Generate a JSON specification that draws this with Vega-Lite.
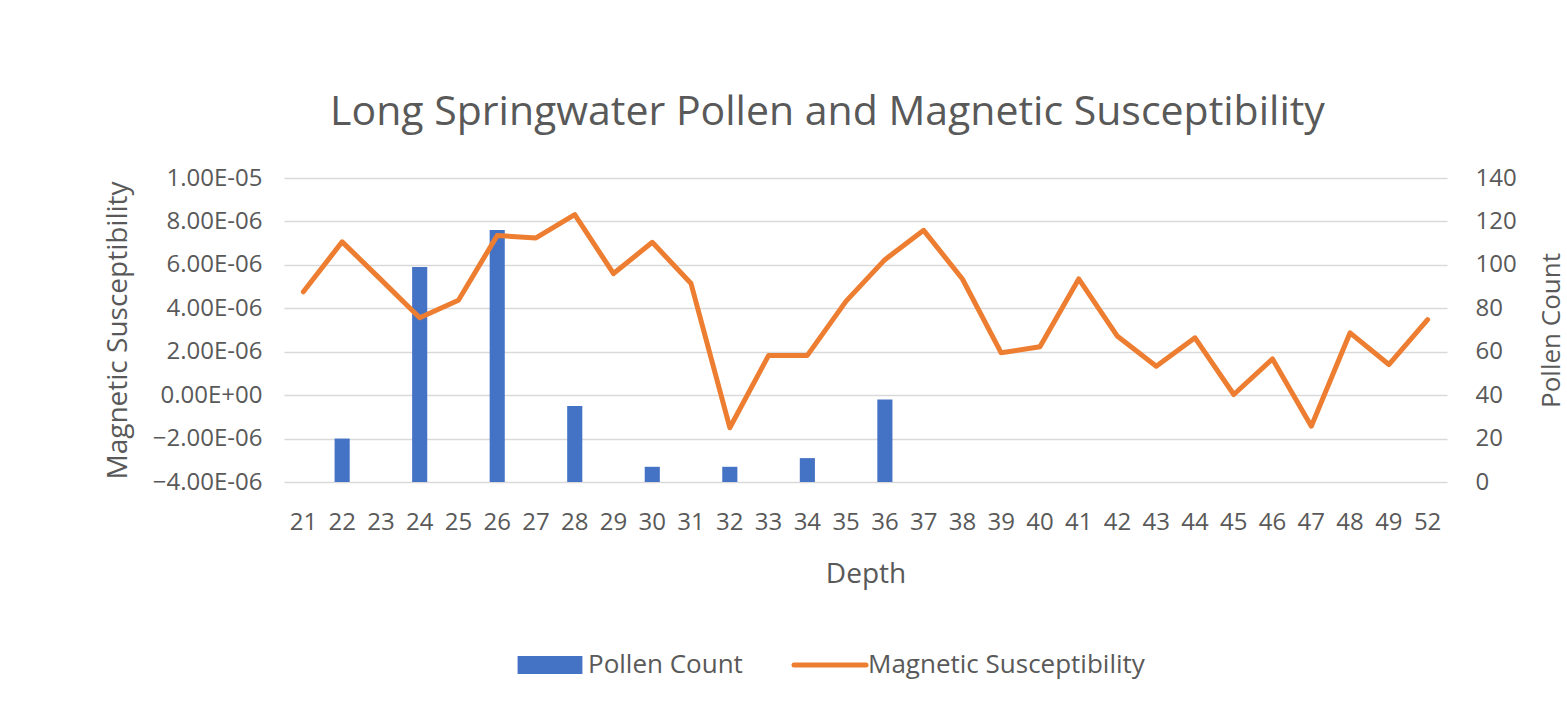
{
  "$schema": "https://vega.github.io/schema/vega-lite/v6.json",
  "autosize": {"type": "none"},
  "width": 1163,
  "height": 304,
  "padding": {"left": 284, "top": 178, "right": 120, "bottom": 221},
  "background": "white",
  "config": {
    "view": {"stroke": null},
    "font": "Open Sans",
    "axis": {"domain": false, "ticks": false, "labelColor": "#595959", "titleColor": "#595959", "labelFont": "Open Sans", "titleFont": "Open Sans", "titleFontWeight": "normal", "labelFontSize": 24, "titleFontSize": 28}
  },
  "title": {"text": "Long Springwater Pollen and Magnetic Susceptibility", "fontSize": 41, "font": "Open Sans", "fontWeight": "normal", "color": "#595959", "anchor": "middle", "dx": -38, "offset": 32},
  "data": {"values": [
    {"depth": 21, "mag": 4.76e-6, "pollen": null},
    {"depth": 22, "mag": 7.06e-6, "pollen": 20},
    {"depth": 23, "mag": 5.32e-6, "pollen": null},
    {"depth": 24, "mag": 3.56e-6, "pollen": 99},
    {"depth": 25, "mag": 4.37e-6, "pollen": null},
    {"depth": 26, "mag": 7.35e-6, "pollen": 116},
    {"depth": 27, "mag": 7.24e-6, "pollen": null},
    {"depth": 28, "mag": 8.31e-6, "pollen": 35},
    {"depth": 29, "mag": 5.60e-6, "pollen": null},
    {"depth": 30, "mag": 7.04e-6, "pollen": 7},
    {"depth": 31, "mag": 5.14e-6, "pollen": null},
    {"depth": 32, "mag": -1.50e-6, "pollen": 7},
    {"depth": 33, "mag": 1.83e-6, "pollen": null},
    {"depth": 34, "mag": 1.83e-6, "pollen": 11},
    {"depth": 35, "mag": 4.33e-6, "pollen": null},
    {"depth": 36, "mag": 6.24e-6, "pollen": 38},
    {"depth": 37, "mag": 7.59e-6, "pollen": null},
    {"depth": 38, "mag": 5.35e-6, "pollen": null},
    {"depth": 39, "mag": 1.95e-6, "pollen": null},
    {"depth": 40, "mag": 2.23e-6, "pollen": null},
    {"depth": 41, "mag": 5.35e-6, "pollen": null},
    {"depth": 42, "mag": 2.71e-6, "pollen": null},
    {"depth": 43, "mag": 1.33e-6, "pollen": null},
    {"depth": 44, "mag": 2.64e-6, "pollen": null},
    {"depth": 45, "mag": 0.03e-6, "pollen": null},
    {"depth": 46, "mag": 1.67e-6, "pollen": null},
    {"depth": 47, "mag": -1.43e-6, "pollen": null},
    {"depth": 48, "mag": 2.87e-6, "pollen": null},
    {"depth": 49, "mag": 1.41e-6, "pollen": null},
    {"depth": 52, "mag": 3.48e-6, "pollen": null}
  ]},
  "encoding": {
    "x": {"field": "depth", "type": "ordinal", "scale": {"type": "band", "paddingInner": 0, "paddingOuter": 0},
      "axis": {"labelAngle": 0, "labelPadding": 28, "title": "Depth", "titlePadding": 26}}
  },
  "layer": [
    {
      "transform": [{"filter": "datum.pollen != null"}],
      "mark": {"type": "bar", "width": {"band": 0.39}},
      "encoding": {
        "y": {"field": "pollen", "type": "quantitative", "scale": {"domain": [0, 140], "nice": false, "zero": true},
          "axis": {"orient": "right", "values": [0, 20, 40, 60, 80, 100, 120, 140], "grid": false, "labelPadding": 28, "title": "Pollen Count", "titleAngle": 270, "titleFontSize": 26, "titlePadding": 48}},
        "color": {"datum": "Pollen Count", "type": "nominal",
          "scale": {"domain": ["Pollen Count", "Magnetic Susceptibility"], "range": ["#4472C4", "#ED7D31"]},
          "legend": {"orient": "none", "legendX": 253, "legendY": 474, "direction": "horizontal", "title": null, "padding": 0,
            "symbolSize": 324, "labelFontSize": 26, "labelFont": "Open Sans", "labelColor": "#595959", "labelOffset": 25, "columnPadding": 41, "labelLimit": 500,
            "symbolStrokeWidth": 5,
            "encode": {"symbols": {"update": {
              "shape": {"signal": "datum.value === 'Pollen Count' ? 'M-3.6,-1H3.6V1H-3.6Z' : 'M-4,0H4'"},
              "fill": {"signal": "datum.value === 'Pollen Count' ? '#4472C4' : 'transparent'"},
              "stroke": {"signal": "datum.value === 'Pollen Count' ? 'transparent' : '#ED7D31'"},
              "strokeWidth": {"signal": "datum.value === 'Pollen Count' ? 0 : 5"},
              "strokeCap": {"value": "round"},
              "opacity": {"value": 1}
            }}}}
        }
      }
    },
    {
      "mark": {"type": "line", "strokeWidth": 5, "strokeJoin": "round", "strokeCap": "round"},
      "encoding": {
        "y": {"field": "mag", "type": "quantitative", "scale": {"domain": [-4e-6, 1e-5], "nice": false, "zero": false},
          "axis": {"orient": "left", "values": [-4e-6, -2e-6, 0, 2e-6, 4e-6, 6e-6, 8e-6, 1e-5], "grid": true, "gridColor": "#d9d9d9", "gridWidth": 1.5,
            "labelPadding": 22, "title": "Magnetic Susceptibility", "titlePadding": 20,
            "labelExpr": "replace(replace(format(datum.value, '.2e'), 'e-', 'E-0'), 'e+', 'E+0')"}},
        "color": {"datum": "Magnetic Susceptibility", "type": "nominal"}
      }
    }
  ],
  "resolve": {"scale": {"y": "independent"}, "axis": {"y": "independent"}}
}
